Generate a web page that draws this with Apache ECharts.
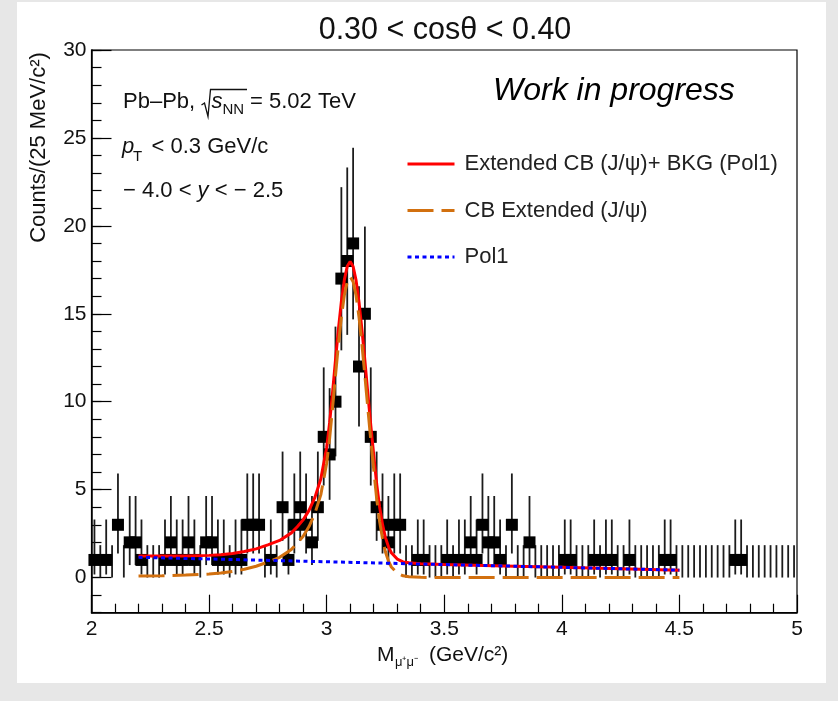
<!DOCTYPE html>
<html>
<head>
<meta charset="utf-8">
<title>J/psi invariant mass fit</title>
<script src="https://cdn.jsdelivr.net/npm/echarts@6/dist/echarts.min.js"></script>
<style>
  html, body { margin: 0; padding: 0; background: #e7e7e7; }
  #paper { position: absolute; left: 17px; top: 2px; width: 809px; height: 681px; background: #ffffff; }
  #chart { position: absolute; left: 0; top: 0; width: 838px; height: 701px; }
</style>
</head>
<body>
<div id="paper"></div>
<div id="chart"></div>
<script>
// Dimuon invariant-mass spectrum: 25 MeV/c^2 bins between 2 and 5 GeV/c^2
const massMin = 2.0;
const binWidth = 0.025;
const counts = [
  1, 0, 1, 0, 3, 0, 2, 2, 1, 0,        // 2.000 - 2.250
  0, 0, 1, 2, 1, 1, 2, 1, 0, 2,        // 2.250 - 2.500
  2, 1, 1, 0, 1, 1, 3, 3, 3, 0,        // 2.500 - 2.750
  1, 0, 4, 1, 3, 4, 3, 2, 4, 8,        // 2.750 - 3.000
  7, 10, 17, 18, 19, 12, 15, 8, 4, 3,  // 3.000 - 3.250
  2, 3, 3, 0, 0, 1, 1, 0, 0, 0,        // 3.250 - 3.500
  1, 0, 1, 1, 2, 1, 3, 2, 2, 1,        // 3.500 - 3.750
  0, 3, 0, 0, 2, 0, 0, 0, 0, 0,        // 3.750 - 4.000
  1, 1, 0, 0, 0, 1, 0, 1, 1, 0,        // 4.000 - 4.250
  0, 1, 0, 0, 0, 0, 0, 1, 1, 0,        // 4.250 - 4.500
  0, 0, 0, 0, 0, 0, 0, 0, 0, 1,        // 4.500 - 4.750
  1, 0, 0, 0, 0, 0, 0, 0, 0, 0         // 4.750 - 5.000
];

// Fit results sampled along the mass axis (fit range 2.2 - 4.5 GeV/c^2)
const fitMass = [
  2.2, 2.3, 2.4, 2.5, 2.55, 2.6, 2.65, 2.7, 2.75, 2.8, 2.85, 2.875, 2.9, 2.925, 2.95, 2.975,
  3.0, 3.0125, 3.025, 3.0375, 3.05, 3.0625, 3.075, 3.0875, 3.1, 3.1125, 3.125, 3.1375, 3.15,
  3.1625, 3.175, 3.1875, 3.2, 3.2125, 3.225, 3.2375, 3.25, 3.2625, 3.275, 3.3, 3.325, 3.35,
  3.4, 3.5, 3.75, 4.0, 4.25, 4.5
];
const fitTotal = [
  1.23, 1.22, 1.23, 1.26, 1.30, 1.37, 1.48, 1.63, 1.86, 2.11, 2.54, 2.89, 3.28, 3.82, 4.56, 5.60,
  7.40, 8.79, 10.52, 12.36, 14.13, 15.69, 16.91, 17.70, 17.97, 17.69, 16.90, 15.66, 14.10,
  12.33, 10.47, 8.67, 6.99, 5.33, 4.03, 3.02, 2.27, 1.76, 1.41, 1.05, 0.89, 0.84,
  0.78, 0.74, 0.66, 0.58, 0.50, 0.42
];
const fitSignal = [
  0.08, 0.10, 0.14, 0.20, 0.26, 0.35, 0.47, 0.64, 0.88, 1.15, 1.60, 1.95, 2.35, 2.90, 3.65, 4.70,
  6.50, 7.90, 9.63, 11.48, 13.25, 14.81, 16.04, 16.83, 17.10, 16.83, 16.04, 14.81, 13.25,
  11.48, 9.63, 7.83, 6.16, 4.50, 3.20, 2.20, 1.45, 0.95, 0.60, 0.25, 0.10, 0.05,
  0.01, 0.00, 0.00, 0.00, 0.00, 0.00
];
const bkgMass = [2.2, 4.5];
const bkgValues = [1.15, 0.42];

const yMajorTicks = [0, 5, 10, 15, 20, 25, 30];

// 68.3% Poisson (Garwood) interval [low, high] for a bin holding n entries
const poissonBand = {
  0: [0, 1.841], 1: [0.173, 3.300], 2: [0.708, 4.638], 3: [1.367, 5.918], 4: [2.086, 7.163],
  5: [2.840, 8.382], 6: [3.620, 9.584], 7: [4.419, 10.77], 8: [5.232, 11.95], 9: [6.057, 13.11],
  10: [6.891, 14.27], 11: [7.734, 15.42], 12: [8.585, 16.56], 13: [9.441, 17.70], 14: [10.30, 18.83],
  15: [11.17, 19.96], 16: [12.04, 21.08], 17: [12.92, 22.20], 18: [13.80, 23.32], 19: [14.68, 24.44],
  20: [15.57, 25.55]
};

const NAME_TOTAL = 'Extended CB (J/\u03c8)+ BKG (Pol1)';
const NAME_SIGNAL = 'CB Extended (J/\u03c8)';
const NAME_BKG = 'Pol1';
const FONT = '"Liberation Sans", Arial, Helvetica, sans-serif';

const binCenters = counts.map((_, i) => +(massMin + (i + 0.5) * binWidth).toFixed(4));
const errorData = counts.map((n, i) => [binCenters[i], poissonBand[n][0], poissonBand[n][1], n]);
const pointData = counts.map((n, i) => [binCenters[i], n]).filter(p => p[1] > 0);
const zip = (xs, ys) => xs.map((x, i) => [x, ys[i]]);

const chart = echarts.init(document.getElementById('chart'), null, { renderer: 'canvas' });

const tickLine = { color: '#000', width: 1.2 };

const option = {
  animation: false,
  backgroundColor: 'transparent',
  textStyle: { fontFamily: FONT },
  grid: {
    left: 91.5, right: 41, top: 50, bottom: 88.3,
    show: true, borderColor: '#000', borderWidth: 1.2, backgroundColor: 'transparent'
  },
  xAxis: {
    type: 'value', min: 2, max: 5, interval: 0.5,
    axisLine: { onZero: false, lineStyle: { color: '#000', width: 1.5 } },
    axisTick: { inside: true, length: 18, lineStyle: tickLine },
    minorTick: { show: true, splitNumber: 5, length: 9, lineStyle: tickLine },
    axisLabel: { fontSize: 21, color: '#111', margin: 6, fontFamily: FONT },
    splitLine: { show: false },
    minorSplitLine: { show: false }
  },
  yAxis: [
    {
      type: 'value', min: -2, max: 30,
      axisLine: { show: true, onZero: false, lineStyle: { color: '#000', width: 1.5 } },
      axisTick: { show: true, inside: true, length: 20, lineStyle: tickLine, customValues: yMajorTicks },
      axisLabel: { fontSize: 21, color: '#111', margin: 5, fontFamily: FONT, customValues: yMajorTicks },
      splitLine: { show: false }
    },
    {
      type: 'value', min: -2, max: 30, interval: 1, position: 'left',
      axisLine: { show: false },
      axisTick: { show: true, inside: true, length: 10, lineStyle: tickLine },
      axisLabel: { show: false },
      splitLine: { show: false }
    }
  ],
  legend: {
    orient: 'vertical', left: 406, top: 153, padding: 0,
    itemWidth: 47, itemHeight: 12, itemGap: 24.5,
    selectedMode: false,
    itemStyle: { opacity: 0 },
    lineStyle: { width: 3 },
    data: [NAME_TOTAL, NAME_SIGNAL, NAME_BKG],
    textStyle: { fontSize: 22, color: '#222', fontFamily: FONT, lineHeight: 22, padding: [0, 0, 0, 5] }
  },
  graphic: [
    { type: 'text', x: 445, y: 31, style: { text: '0.30 < cos\u03b8 < 0.40', font: '30.5px ' + FONT, fill: '#111', align: 'center', verticalAlign: 'middle' } },
    { type: 'text', x: 39, y: 147.5, rotation: Math.PI / 2, style: { text: 'Counts/(25 MeV/c\u00b2)', font: '22px ' + FONT, fill: '#111', align: 'center', verticalAlign: 'middle' } },
    // x-axis title
    { type: 'text', x: 377, y: 655, style: { text: 'M', font: '21px ' + FONT, fill: '#111', align: 'left', verticalAlign: 'middle' } },
    { type: 'text', x: 395, y: 662, style: { text: '\u03bc\u207a\u03bc\u207b', font: '13px ' + FONT, fill: '#111', align: 'left', verticalAlign: 'middle' } },
    { type: 'text', x: 429, y: 655, style: { text: '(GeV/c\u00b2)', font: '21px ' + FONT, fill: '#111', align: 'left', verticalAlign: 'middle' } },
    // collision system and kinematic selection
    { type: 'text', x: 123, y: 102, style: { text: 'Pb\u2013Pb,', font: '22px ' + FONT, fill: '#111', align: 'left', verticalAlign: 'middle' } },
    { type: 'polyline', shape: { points: [[201.5, 105], [204.5, 103], [208, 116.5], [210.5, 89.5], [247, 89.5]] }, style: { stroke: '#111', lineWidth: 1.3, fill: null } },
    { type: 'text', x: 211.5, y: 102, style: { text: 's', font: 'italic 22px ' + FONT, fill: '#111', align: 'left', verticalAlign: 'middle' } },
    { type: 'text', x: 222.5, y: 110, style: { text: 'NN', font: '15px ' + FONT, fill: '#111', align: 'left', verticalAlign: 'middle' } },
    { type: 'text', x: 250, y: 102, style: { text: '= 5.02 TeV', font: '22px ' + FONT, fill: '#111', align: 'left', verticalAlign: 'middle' } },
    { type: 'text', x: 122, y: 146.5, style: { text: 'p', font: 'italic 22px ' + FONT, fill: '#111', align: 'left', verticalAlign: 'middle' } },
    { type: 'text', x: 133, y: 157, style: { text: 'T', font: '15px ' + FONT, fill: '#111', align: 'left', verticalAlign: 'middle' } },
    { type: 'text', x: 151.5, y: 146.5, style: { text: '< 0.3 GeV/c', font: '22px ' + FONT, fill: '#111', align: 'left', verticalAlign: 'middle' } },
    {
      type: 'text', x: 123, y: 191,
      style: {
        text: '\u2212 4.0 < {i|y} < \u2212 2.5', font: '22px ' + FONT, fill: '#111', align: 'left', verticalAlign: 'middle',
        rich: { i: { fontStyle: 'italic', fontSize: 22, fontFamily: FONT, fill: '#111' } }
      }
    },
    { type: 'text', x: 493, y: 91, style: { text: 'Work in progress', font: 'italic 32px ' + FONT, fill: '#000', align: 'left', verticalAlign: 'middle' } }
  ],
  series: [
    {
      name: 'errors', type: 'custom', z: 2, silent: true,
      data: errorData,
      encode: { x: 0, y: [1, 2] },
      renderItem: function (params, api) {
        const x = api.value(0);
        const p1 = api.coord([x, api.value(1)]);
        const p2 = api.coord([x, api.value(2)]);
        return {
          type: 'line',
          shape: { x1: p1[0], y1: p1[1], x2: p2[0], y2: p2[1] },
          style: { stroke: '#1c1c1c', lineWidth: 1.8 }
        };
      }
    },
    {
      name: 'data', type: 'scatter', z: 3, clip: false, silent: true,
      symbol: 'rect', symbolSize: 12,
      itemStyle: { color: '#000', opacity: 1 },
      data: pointData
    },
    {
      name: NAME_TOTAL, type: 'line', z: 4, symbol: 'none', smooth: false,
      lineStyle: { color: '#ff0000', width: 3 },
      itemStyle: { color: '#ff0000' },
      data: zip(fitMass, fitTotal)
    },
    {
      name: NAME_SIGNAL, type: 'line', z: 5, symbol: 'none', smooth: false,
      lineStyle: { color: '#d2700f', width: 3, type: [26, 8] },
      itemStyle: { color: '#d2700f' },
      data: zip(fitMass, fitSignal)
    },
    {
      name: NAME_BKG, type: 'line', z: 6, symbol: 'none',
      lineStyle: { color: '#0000ff', width: 3, type: [4, 3.5] },
      itemStyle: { color: '#0000ff' },
      data: zip(bkgMass, bkgValues)
    }
  ]
};

chart.setOption(option);
</script>
</body>
</html>
